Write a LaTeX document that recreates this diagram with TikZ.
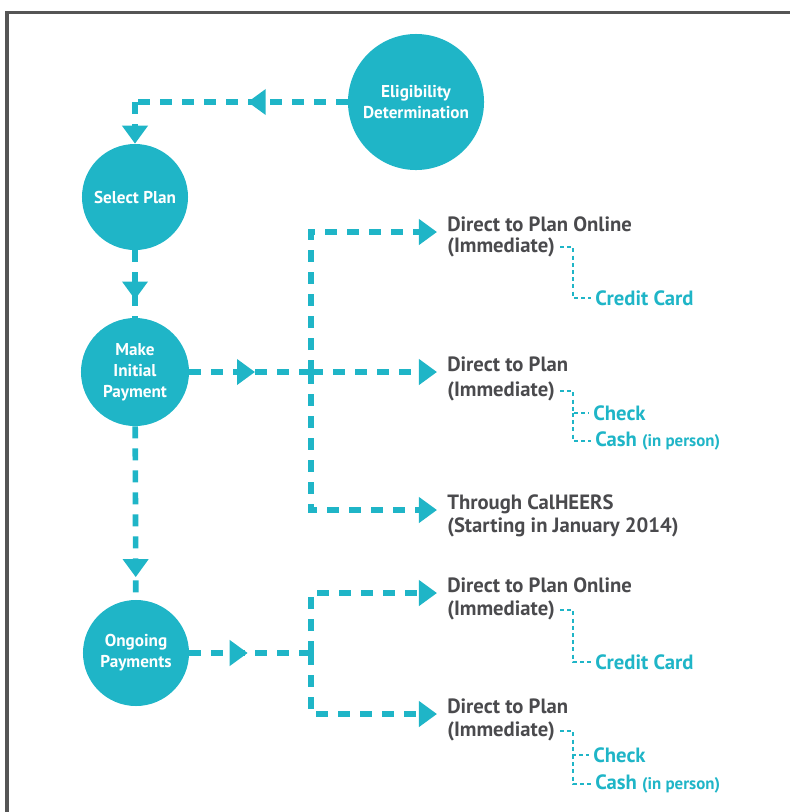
\documentclass[tikz,border=0pt]{standalone}
\usepackage{fontspec}
\setmainfont{PT Sans}
\usetikzlibrary{arrows.meta,positioning,decorations.markings}
\definecolor{cfTeal}{HTML}{1FB5C7}
\definecolor{cfInk}{HTML}{4A4A4D}
\definecolor{cfFrame}{HTML}{555555}
\tikzset{
  % Arrow head used on the flow lines
  flowtip/.tip={Triangle[length=0.45cm,width=0.62cm]},
  % Teal step disc
  stepdisc/.style={circle,fill=cfTeal,text=white,inner sep=0pt,
    minimum size=2.65cm,align=center,
    font=\fontsize{12.2}{15}\selectfont\bfseries},
  % Option heading (first line, arrow target)
  optlbl/.style={anchor=west,inner xsep=0.25cm,inner ysep=0pt,
    text height=0.75em,text depth=0.8em,text=cfInk,
    font=\fontsize{14.7}{17}\selectfont\bfseries},
  % Option second line
  subl/.style={anchor=west,inner xsep=0.125cm,inner ysep=0pt,
    text=cfInk,font=\fontsize{14.7}{17}\selectfont\bfseries},
  % Payment method (teal)
  methl/.style={anchor=west,inner xsep=0.1cm,inner ysep=0pt,
    text=cfTeal,font=\fontsize{14.7}{17}\selectfont\bfseries},
  % Lines
  flow/.style={line width=0.14cm,color=cfTeal,
    dash pattern=on 0.3cm off 0.25cm},
  twig/.style={line width=0.06cm,color=cfTeal,
    dash pattern=on 0.1cm off 0.08cm},
  midarr/.style={postaction={decorate},decoration={markings,
    mark=at position #1 with {\arrow{flowtip}}}},
}
\begin{document}
\begin{tikzpicture}[x=0.025cm,y=-0.025cm]
  \useasboundingbox (0,0) rectangle (790,812);
  \draw[cfFrame,line width=0.075cm] (7,812) -- (7,12.5) -- (790,12.5);

  % steps
  \node[stepdisc,minimum size=3.4cm] (elig) at (416,102)
    {Eligibility\\Determination};
  \node[stepdisc] (sel) at (135,197) {Select Plan};
  \node[stepdisc,minimum size=2.7cm] (make) at (135,372)
    {Make\\Initial\\Payment};
  \node[stepdisc] (ong) at (136,653) {Ongoing\\Payments};

  \coordinate (c0) at (135,102);
  \coordinate (j1) at (311,372);
  \coordinate (j2) at (311,653);

  % initial payment options
  \node[optlbl] (op1) at (437,232) {Direct to Plan Online};
  \node[subl] (imm1) at (442,247) {(Immediate)};
  \node[methl] (cc1) at (591,298) {Credit Card};

  \node[optlbl] (op2) at (437,372) {Direct to Plan};
  \node[subl] (imm2) at (442,391) {(Immediate)};
  \node[methl] (chk2) at (589,413) {Check};
  \node[methl] (cash2) at (591,441)
    {Cash {\fontsize{12}{14}\selectfont(in person)}};

  \node[optlbl] (op3) at (437,510) {Through CalHEERS};
  \node[subl] (start3) at (442,527) {(Starting in January 2014)};

  % ongoing payment options
  \node[optlbl] (op4) at (437,593) {Direct to Plan Online};
  \node[subl] (imm4) at (442,610) {(Immediate)};
  \node[methl] (cc4) at (591,662) {Credit Card};

  \node[optlbl] (op5) at (437,714) {Direct to Plan};
  \node[subl] (imm5) at (442,731) {(Immediate)};
  \node[methl] (chk5) at (589,755) {Check};
  \node[methl] (cash5) at (591,784)
    {Cash {\fontsize{12}{14}\selectfont(in person)}};

  \coordinate (t1) at (573,298);
  \coordinate (t2) at (573,413);
  \coordinate (t4) at (573,662);
  \coordinate (t5) at (573,755);

  % main flow
  \draw[flow,midarr=0.47] (elig) -- (c0);
  \draw[flow,-{flowtip}] (c0) -- (sel);
  \draw[flow,midarr=0.73] (sel) -- (make);
  \draw[flow,midarr=0.87] (make) -- (ong);

  \draw[flow,midarr=0.54] (make) -- (j1);
  \draw[flow,-{flowtip}] (j1) -- (op2);
  \draw[flow,-{flowtip}] (j1) |- (op1);
  \draw[flow,-{flowtip}] (j1) |- (op3);

  \draw[flow,midarr=0.48] (ong) -- (j2);
  \draw[flow,-{flowtip}] (j2) |- (op4);
  \draw[flow,-{flowtip}] (j2) |- (op5);

  % payment methods
  \draw[twig] (imm1) -| (t1) -- (cc1);
  \draw[twig] (imm2) -| (t2) -- (chk2);
  \draw[twig] (t2) |- (cash2);
  \draw[twig] (imm4) -| (t4) -- (cc4);
  \draw[twig] (imm5) -| (t5) -- (chk5);
  \draw[twig] (t5) |- (cash5);
\end{tikzpicture}
\end{document}
